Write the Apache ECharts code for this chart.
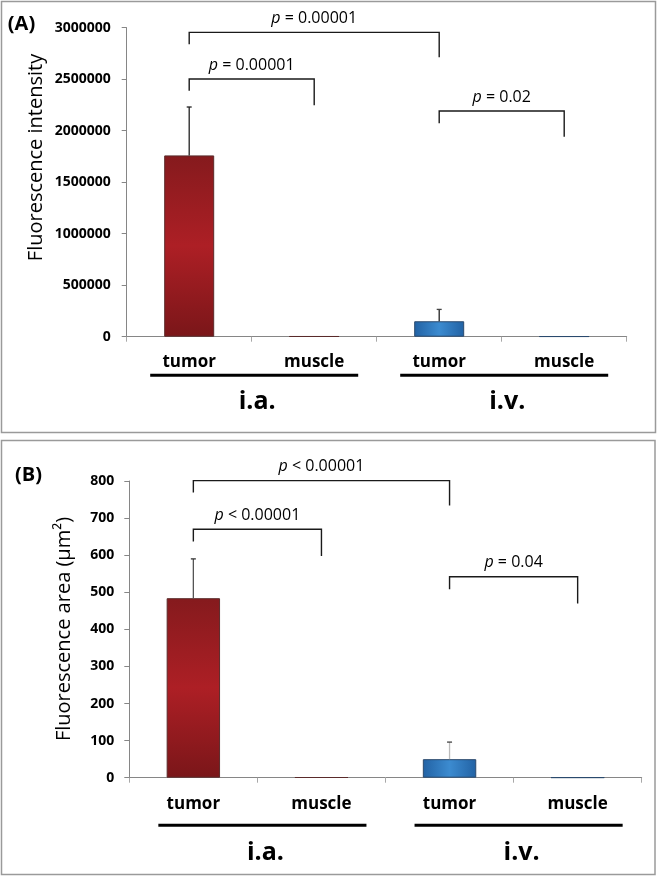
<!DOCTYPE html>
<html><head><meta charset="utf-8">
<script src="https://cdn.jsdelivr.net/npm/echarts@6/dist/echarts.min.js"></script>
<style>html,body{margin:0;padding:0;background:#fff}#c{width:657px;height:877px}</style>
</head><body><div id="c"></div>
<script>
// ---- data ----
const categories = ['tumor', 'muscle', 'tumor', 'muscle'];
const groupNames = ['i.a.', 'i.v.'];
const groupOf = [0, 0, 1, 1];
const groupSpans = [[0, 1, 0], [2, 3, 1]];
const intensityMean = [1760000, 4000, 150000, 3000];
const intensityErr = [470000, 0, 115000, 0];
const areaMean = [484, 1, 50, 0.5];
const areaErr = [106, 0, 46, 0];
const intensityAxis = [0, 3000000, 500000]; // min, max, interval
const areaAxis = [0, 800, 100];
// brackets: [fromCat, toCat, barLevel, leftLegEnd, rightLegEnd]
const intensityBrackets = [[0, 2, 2955000, 2839000, 2713000], [0, 1, 2502000, 2388000, 2247000], [2, 3, 2191000, 2072000, 1942000]];
const intensityPLabels = ['= 0.00001', '= 0.00001', '= 0.02'];
const areaBrackets = [[0, 2, 801, 769, 734], [0, 1, 670, 637, 598], [2, 3, 542, 508, 470]];
const areaPLabels = ['< 0.00001', '< 0.00001', '= 0.04'];
const panelTitles = ['(A)', '(B)'];
const yNames = ['Fluorescence intensity', 'Fluorescence area (μm²)'];

// ---- styles ----
const FONT = '"Open Sans", "Liberation Sans", sans-serif';
const AX = '#868686';
const barStyles = [
  { color: { type: 'linear', x: 0, y: 0, x2: 0, y2: 1, colorStops: [
      { offset: 0, color: '#851a1d' }, { offset: 0.5, color: '#ad1f25' }, { offset: 1, color: '#7a1619' }] },
    borderColor: '#5a2b2b', borderWidth: 1 },
  { color: { type: 'linear', x: 0, y: 0, x2: 1, y2: 0, colorStops: [
      { offset: 0, color: '#2262a4' }, { offset: 0.5, color: '#3c8bd0' }, { offset: 1, color: '#2262a4' }] },
    borderColor: '#2b4a6e', borderWidth: 1 }
];
const errColors = [['#222', '#444'], ['#333', '#444']];
const errStem = [['#222', '#222'], ['#555', '#bbbbbb']];
// per-panel annotation layout (pixels relative to axis)
const layout = [
  { lineOff: 38.5, labelOff: 65, leftOff: -39, rightOff: 44, labelMargin: 16.5, tickMargin: 16 },
  { lineOff: 47.5, labelOff: 75.5, leftOff: -35, rightOff: 45, labelMargin: 17.5, tickMargin: 15 }
];

function errRender(panel) {
  return function (params, api) {
    const x = api.value(0), m = api.value(1), e = api.value(2);
    const p0 = api.coord([x, m]), p1 = api.coord([x, m + e]);
    const g = groupOf[x];
    return { type: 'group', children: [
      { type: 'line', shape: { x1: p0[0], y1: p0[1], x2: p1[0], y2: p1[1] }, style: { stroke: errStem[panel][g], lineWidth: 1.3 } },
      { type: 'line', shape: { x1: p1[0] - 2.5, y1: p1[1], x2: p1[0] + 2.5, y2: p1[1] }, style: { stroke: errColors[panel][g], lineWidth: 1.3 } }
    ] };
  };
}
function bracketRender(labels) {
  return function (params, api) {
    const a = api.coord([api.value(0), api.value(2)]);
    const b = api.coord([api.value(1), api.value(2)]);
    const l = api.coord([api.value(0), api.value(3)]);
    const r = api.coord([api.value(1), api.value(4)]);
    return { type: 'group', children: [
      { type: 'polyline', shape: { points: [[l[0], l[1]], [a[0], a[1]], [b[0], b[1]], [r[0], r[1]]] },
        style: { stroke: '#1a1a1a', lineWidth: 1.4, fill: null } },
      { type: 'text', x: (a[0] + b[0]) / 2, y: a[1] - 14,
        style: { text: '{i|p} ' + labels[params.dataIndex], align: 'center', verticalAlign: 'middle',
          fontSize: 16, fontFamily: FONT, fill: '#000',
          rich: { i: { fontStyle: 'italic', fontSize: 16, fontFamily: FONT, fill: '#000' } } } }
    ] };
  };
}
function groupRender(panel) {
  const L = layout[panel];
  return function (params, api) {
    const p0 = api.coord([api.value(0), 0]);
    const p1 = api.coord([api.value(1), 0]);
    const x1 = p0[0] + L.leftOff, x2 = p1[0] + L.rightOff;
    return { type: 'group', children: [
      { type: 'line', shape: { x1: x1, y1: p0[1] + L.lineOff, x2: x2, y2: p0[1] + L.lineOff }, style: { stroke: '#000', lineWidth: 3 } },
      { type: 'text', x: (x1 + x2) / 2 + 3, y: p0[1] + L.labelOff,
        style: { text: groupNames[api.value(2)], align: 'center', verticalAlign: 'middle', fontSize: 25, fontWeight: 'bold', fontFamily: FONT, fill: '#000' } }
    ] };
  };
}

function xAxisFor(grid) {
  return { type: 'category', gridIndex: grid, data: categories,
    axisLine: { lineStyle: { color: AX, width: 1 } },
    axisTick: { show: true, interval: 0, length: 5, lineStyle: { color: '#a8a8a8' } },
    axisLabel: { color: '#000', fontWeight: 'bold', fontSize: 17, fontFamily: FONT, margin: layout[grid].labelMargin, lineHeight: 17, interval: 0 } };
}
function yAxisFor(grid, ax) {
  return { type: 'value', gridIndex: grid, min: ax[0], max: ax[1], interval: ax[2],
    axisLine: { show: true, lineStyle: { color: AX, width: 1 } },
    axisTick: { show: true, length: 5, lineStyle: { color: AX } },
    splitLine: { show: false },
    axisLabel: { color: '#000', fontWeight: 'bold', fontSize: 14, fontFamily: FONT, margin: layout[grid].tickMargin,
      formatter: v => String(v) } };
}
function barData(means) {
  return means.map((v, i) => ({ value: v, itemStyle: barStyles[groupOf[i]] }));
}
function errData(means, errs) {
  return means.map((v, i) => [i, v, errs[i]]).filter(d => d[2] > 0);
}

const chart = echarts.init(document.getElementById('c'), null, { renderer: 'canvas' });
chart.setOption({
  animation: false,
  backgroundColor: '#fff',
  grid: [
    { left: 126.7, top: 27.7, width: 500, height: 309 },
    { left: 129.3, top: 481, width: 512.4, height: 296.7 }
  ],
  xAxis: [xAxisFor(0), xAxisFor(1)],
  yAxis: [yAxisFor(0, intensityAxis), yAxisFor(1, areaAxis)],
  series: [
    { type: 'bar', xAxisIndex: 0, yAxisIndex: 0, barWidth: '40%', data: barData(intensityMean) },
    { type: 'bar', xAxisIndex: 1, yAxisIndex: 1, barWidth: '41.7%', data: barData(areaMean) },
    { type: 'custom', xAxisIndex: 0, yAxisIndex: 0, renderItem: errRender(0), data: errData(intensityMean, intensityErr), z: 3 },
    { type: 'custom', xAxisIndex: 1, yAxisIndex: 1, renderItem: errRender(1), data: errData(areaMean, areaErr), z: 3 },
    { type: 'custom', xAxisIndex: 0, yAxisIndex: 0, renderItem: bracketRender(intensityPLabels), data: intensityBrackets, clip: false, z: 4 },
    { type: 'custom', xAxisIndex: 1, yAxisIndex: 1, renderItem: bracketRender(areaPLabels), data: areaBrackets, clip: false, z: 4 },
    { type: 'custom', xAxisIndex: 0, yAxisIndex: 0, renderItem: groupRender(0), data: groupSpans, clip: false, z: 4 },
    { type: 'custom', xAxisIndex: 1, yAxisIndex: 1, renderItem: groupRender(1), data: groupSpans, clip: false, z: 4 }
  ],
  graphic: [
    { type: 'rect', shape: { x: 1.5, y: 1.5, width: 654, height: 431 }, style: { fill: 'none', stroke: '#9a9a9a', lineWidth: 1.5 }, z: -1 },
    { type: 'rect', shape: { x: 1.5, y: 440.5, width: 653.5, height: 434 }, style: { fill: 'none', stroke: '#9a9a9a', lineWidth: 1.5 }, z: -1 },
    { type: 'text', x: 21.5, y: 24.5, style: { text: panelTitles[0], align: 'center', verticalAlign: 'middle', textAlign: 'center', textVerticalAlign: 'middle', fontSize: 20, fontWeight: 'bold', fontFamily: FONT, fill: '#000' } },
    { type: 'text', x: 28.5, y: 475, style: { text: panelTitles[1], align: 'center', verticalAlign: 'middle', textAlign: 'center', textVerticalAlign: 'middle', fontSize: 20, fontWeight: 'bold', fontFamily: FONT, fill: '#000' } },
    { type: 'text', x: 36, y: 157.5, rotation: Math.PI / 2, style: { text: yNames[0], align: 'center', verticalAlign: 'middle', textAlign: 'center', textVerticalAlign: 'middle', fontSize: 20, fontFamily: FONT, fill: '#000' } },
    { type: 'text', x: 64, y: 629, rotation: Math.PI / 2, style: { text: yNames[1], align: 'center', verticalAlign: 'middle', textAlign: 'center', textVerticalAlign: 'middle', fontSize: 20, fontFamily: FONT, fill: '#000' } }
  ]
});
</script>
</body></html>
